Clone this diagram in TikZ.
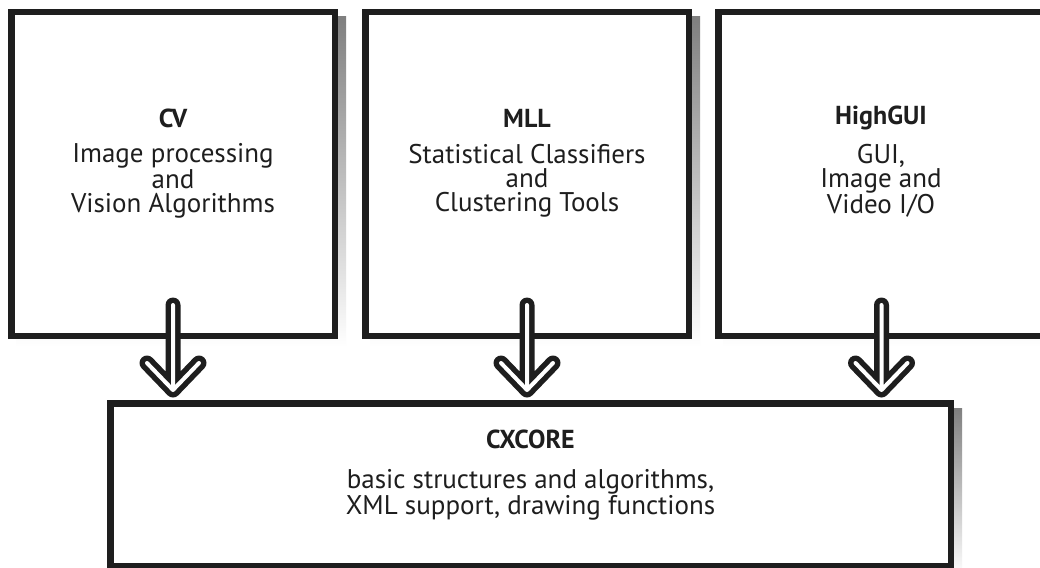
\documentclass[tikz,border=0pt]{standalone}
\usepackage{fontspec}
\setmainfont{PT Sans}
\pgfdeclarelayer{background}
\pgfdeclarelayer{paper}
\pgfsetlayers{paper,background,main}
\definecolor{ink}{HTML}{1E1E1E}
\definecolor{shade}{HTML}{BDBDBD}
\begin{document}
\begin{tikzpicture}[x=1pt,y=-1pt,
  box/.style={draw=ink, line width=6.5pt, fill=white, inner sep=0pt,
              minimum width=323.5pt, minimum height=323.5pt},
  title/.style={font=\fontsize{26}{28}\selectfont\bfseries, text=ink, inner sep=0pt},
  body/.style={font=\fontsize{27}{24}\selectfont, text=ink, align=center, inner sep=0pt},
  chevron/.style={to path={(\tikztostart) -- (\tikztotarget)
                  (\tikztotarget) ++(-26,-27) -- (\tikztotarget) -- ++(26,-27)}},
  hollowarrow/.style={draw=white, line width=4pt, line cap=round, line join=round,
                  preaction={draw=ink, line width=15pt, line cap=round, line join=round}}]
\useasboundingbox (0,0) rectangle (1040,567);
\clip (0,0) rectangle (1040,567);
\begin{pgfonlayer}{paper}
\fill[white] (0,0) rectangle (1040,567);
\end{pgfonlayer}
% boxes
\node[box] (cv)  at (173,174) {};
\node[box] (mll) at (527,174) {};
\node[box, minimum width=326.5pt] (gui) at (881.5,174) {};
\node[box, minimum width=840.5pt, minimum height=162.5pt] (core) at (530.5,484.5) {};
% shadows
\begin{pgfonlayer}{background}
\foreach \n in {cv,mll,gui,core}
  \fill[shade] ([shift={(8,8)}]\n.north west) rectangle ([shift={(8,8)}]\n.south east);
\end{pgfonlayer}
% texts
\node[title] (cvt)  at (173,118) {CV};
\node[body]  (cvb)  at (173,181) {Image processing\\and\\Vision Algorithms};
\node[title] (mllt) at (527,118) {MLL};
\node[body]  (mllb) at (527,181) {Statistical Classifiers\\and\\Clustering Tools};
\node[title] (guit) at (881,118) {HighGUI};
\node[body]  (guib) at (881,181) {GUI,\\Image and\\Video I/O};
\node[title] (coret) at (530.5,439) {CXCORE};
\node[body]  (coreb) at (530.5,495) {basic structures and algorithms,\\XML support, drawing functions};
% arrows
\draw[hollowarrow] ([yshift=34pt]cv.south)  to[chevron] ([yshift=10pt]cv.south  |- core.north);
\draw[hollowarrow] ([yshift=34pt]mll.south) to[chevron] ([yshift=10pt]mll.south |- core.north);
\draw[hollowarrow] ([yshift=34pt]gui.south) to[chevron] ([yshift=10pt]gui.south |- core.north);
\end{tikzpicture}
\end{document}
